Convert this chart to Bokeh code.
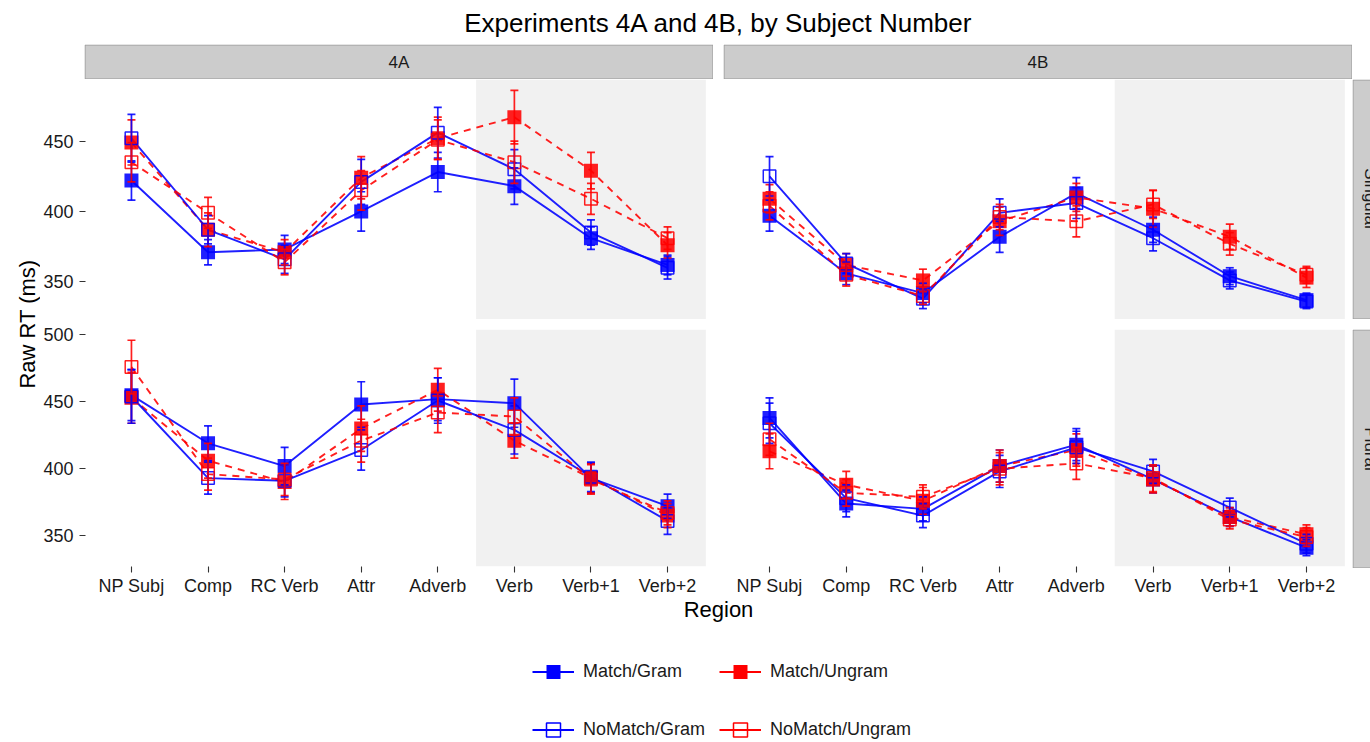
import math

from bokeh.embed import file_html
from bokeh.layouts import column, row
from bokeh.models import (ColumnDataSource, FactorRange, FixedTicker, Label,
                          Legend, LegendItem, Range1d, Spacer)
from bokeh.plotting import figure
from bokeh.resources import INLINE
from bokeh.transform import dodge

FONT = "Liberation Sans"

# ---------------------------------------------------------------- data
regions = ["NP Subj", "Comp", "RC Verb", "Attr", "Adverb", "Verb", "Verb+1", "Verb+2"]
conditions = ["Match/Gram", "Match/Ungram", "NoMatch/Gram", "NoMatch/Ungram"]
experiments = ["4A", "4B"]
numbers = ["Singular", "Plural"]
critical_first, critical_last = "Verb", "Verb+2"

# mean raw reading times (ms)
mean_4a_sg = {
    "Match/Gram":     [422, 371, 373, 400, 428, 418, 381, 362],
    "Match/Ungram":   [449, 387, 371, 424, 452, 467, 429, 376],
    "NoMatch/Gram":   [452, 387, 366, 421, 456, 430, 385, 360],
    "NoMatch/Ungram": [435, 399, 364, 415, 451, 435, 409, 381],
}
mean_4b_sg = {
    "Match/Gram":     [397, 356, 342, 382, 413, 387, 354, 337],
    "Match/Ungram":   [409, 362, 351, 393, 410, 402, 382, 353],
    "NoMatch/Gram":   [425, 363, 338, 399, 406, 381, 351, 336],
    "NoMatch/Ungram": [404, 355, 340, 396, 393, 405, 377, 355],
}
mean_4a_pl = {
    "Match/Gram":     [455, 419, 402, 448, 452, 449, 393, 372],
    "Match/Ungram":   [453, 406, 390, 430, 459, 421, 393, 365],
    "NoMatch/Gram":   [454, 393, 391, 414, 451, 429, 394, 361],
    "NoMatch/Ungram": [476, 396, 392, 421, 442, 439, 392, 367],
}
mean_4b_pl = {
    "Match/Gram":     [438, 374, 370, 402, 418, 392, 364, 341],
    "Match/Ungram":   [413, 388, 376, 402, 414, 392, 364, 351],
    "NoMatch/Gram":   [434, 378, 365, 398, 416, 398, 371, 344],
    "NoMatch/Ungram": [422, 382, 379, 400, 404, 393, 362, 349],
}

# standard errors (ms)
se_4a_sg = {
    "Match/Gram":     [14, 9, 10, 14, 14, 13, 8, 7],
    "Match/Ungram":   [16, 12, 9, 15, 15, 19, 13, 9],
    "NoMatch/Gram":   [17, 10, 10, 16, 18, 14, 9, 8],
    "NoMatch/Ungram": [14, 11, 9, 14, 14, 15, 11, 8],
}
se_4b_sg = {
    "Match/Gram":     [11, 8, 7, 11, 11, 9, 6, 5],
    "Match/Ungram":   [10, 8, 8, 10, 10, 13, 9, 7],
    "NoMatch/Gram":   [14, 7, 7, 10, 11, 9, 6, 5],
    "NoMatch/Ungram": [10, 8, 6, 9, 11, 10, 8, 6],
}
se_4a_pl = {
    "Match/Gram":     [19, 13, 14, 17, 16, 18, 11, 9],
    "Match/Ungram":   [19, 13, 13, 17, 16, 13, 11, 9],
    "NoMatch/Gram":   [20, 12, 12, 15, 17, 18, 11, 10],
    "NoMatch/Ungram": [20, 12, 12, 16, 15, 14, 11, 9],
}
se_4b_pl = {
    "Match/Gram":     [15, 10, 9, 12, 12, 10, 7, 6],
    "Match/Ungram":   [13, 10, 10, 12, 12, 10, 7, 7],
    "NoMatch/Gram":   [15, 10, 9, 12, 12, 9, 7, 7],
    "NoMatch/Ungram": [12, 10, 9, 12, 12, 10, 7, 7],
}

y_ticks = {"Singular": [350, 400, 450], "Plural": [350, 400, 450, 500]}

panel_means = {("4A", "Singular"): mean_4a_sg, ("4B", "Singular"): mean_4b_sg,
               ("4A", "Plural"): mean_4a_pl, ("4B", "Plural"): mean_4b_pl}
panel_ses = {("4A", "Singular"): se_4a_sg, ("4B", "Singular"): se_4b_sg,
             ("4A", "Plural"): se_4a_pl, ("4B", "Plural"): se_4b_pl}

BLUE, RED = "#0000FF", "#FF0000"
styles = {
    "Match/Gram":     dict(color=BLUE, dash="solid", filled=True),
    "Match/Ungram":   dict(color=RED, dash="7 6", filled=True),
    "NoMatch/Gram":   dict(color=BLUE, dash="solid", filled=False),
    "NoMatch/Ungram": dict(color=RED, dash="7 6", filled=False),
}
ALPHA = 0.88

# ---------------------------------------------------------------- sizes (px)
W = 1370
TITLE_H = 44
STRIP = 35
PANEL_W = 629
PANEL_GAP = 10
TOP_H = 240
BOT_H = 239
XAXIS_H = 30
YLAB_W = 40
YAXIS_W = 44
RIGHT_STRIP_W = W - YLAB_W - YAXIS_W - 2 * PANEL_W - PANEL_GAP
REGION_H = 30
LEGEND_H = 742 - TITLE_H - STRIP - TOP_H - PANEL_GAP - BOT_H - XAXIS_H - REGION_H


def blank(width, height):
    f = figure(width=width, height=height, x_range=Range1d(0, width),
               y_range=Range1d(0, height), title=None, toolbar_location=None,
               x_axis_location=None, y_axis_location=None, min_border=0,
               output_backend="svg")
    f.grid.visible = False
    f.outline_line_color = None
    return f


def row_limits(number):
    lows, highs = [], []
    for exp in experiments:
        for cond in conditions:
            m = panel_means[(exp, number)][cond]
            s = panel_ses[(exp, number)][cond]
            lows += [a - b for a, b in zip(m, s)]
            highs += [a + b for a, b in zip(m, s)]
    lo, hi = min(lows), max(highs)
    pad = 0.05 * (hi - lo)
    return lo - pad, hi + pad


def panel(exp, number, left_axis, bottom_axis):
    y0, y1 = row_limits(number)
    top_pad = PANEL_GAP if number == "Plural" else 0
    width = PANEL_W + (YAXIS_W if left_axis else 0)
    height = (TOP_H if number == "Singular" else BOT_H) + top_pad + (XAXIS_H if bottom_axis else 0)
    p = figure(width=width, height=height, title=None,
               x_range=FactorRange(factors=regions, range_padding=0.1,
                                   range_padding_units="absolute"),
               y_range=Range1d(y0, y1), toolbar_location=None,
               x_axis_location="below" if bottom_axis else None,
               y_axis_location="left" if left_axis else None,
               min_border_left=YAXIS_W if left_axis else 0, min_border_right=0,
               min_border_top=top_pad, min_border_bottom=XAXIS_H if bottom_axis else 0,
               output_backend="svg")
    p.grid.visible = False
    p.outline_line_color = None
    p.background_fill_color = "white"

    # shaded critical region
    shade = ColumnDataSource(dict(first=[critical_first], last=[critical_last],
                                  bottom=[y0], top=[y1]))
    p.quad(left=dodge("first", -0.5, range=p.x_range),
           right=dodge("last", 0.5, range=p.x_range),
           bottom="bottom", top="top", source=shade,
           fill_color="#F1F1F1", line_color=None)

    sources = {}
    for cond in conditions:
        m = panel_means[(exp, number)][cond]
        s = panel_ses[(exp, number)][cond]
        sources[cond] = ColumnDataSource(dict(
            region=regions, rt=m,
            lo=[a - b for a, b in zip(m, s)], hi=[a + b for a, b in zip(m, s)]))

    for cond in conditions:
        st = styles[cond]
        p.line(x="region", y="rt", source=sources[cond], line_color=st["color"],
               line_width=1.9, line_dash=st["dash"], line_alpha=ALPHA)
    for cond in conditions:
        st = styles[cond]
        if st["filled"]:
            p.scatter(x="region", y="rt", source=sources[cond], marker="square",
                      size=14, fill_color=st["color"], fill_alpha=ALPHA,
                      line_color=None)
        else:
            p.scatter(x="region", y="rt", source=sources[cond], marker="square",
                      size=12.5, fill_color=None, line_color=st["color"],
                      line_width=1.5, line_alpha=ALPHA)
    for cond in conditions:
        st = styles[cond]
        src = sources[cond]
        p.segment(x0="region", y0="lo", x1="region", y1="hi", source=src,
                  line_color=st["color"], line_width=1.7, line_alpha=ALPHA)
        for end in ("lo", "hi"):
            p.scatter(x="region", y=end, source=src, marker="dash", size=8,
                      line_color=st["color"], line_width=1.7, line_alpha=ALPHA)

    for ax in p.axis:
        ax.axis_line_color = None
        ax.major_tick_line_color = "#333333"
        ax.major_tick_line_width = 1.1
        ax.major_tick_in = 0
        ax.major_tick_out = 6
        ax.minor_tick_line_color = None
        ax.major_label_text_font = FONT
        ax.major_label_text_font_size = "18px"
        ax.major_label_text_color = "#1A1A1A"
    if left_axis:
        p.yaxis.ticker = FixedTicker(ticks=y_ticks[number])
        p.yaxis.major_label_standoff = 6
    if bottom_axis:
        p.xaxis.major_label_standoff = 3
    return p


def top_strip(text):
    s = blank(PANEL_W, STRIP)
    s.quad(left=0.5, right=PANEL_W - 0.5, bottom=0.5, top=STRIP - 0.5,
           fill_color="#CCCCCC", line_color="#999999", line_width=1)
    s.add_layout(Label(x=PANEL_W / 2, y=STRIP / 2, text=text, text_align="center",
                       text_baseline="middle", text_font=FONT,
                       text_font_size="17px", text_color="#1A1A1A"))
    return s


def side_strip(text, height):
    s = blank(RIGHT_STRIP_W, height)
    s.quad(left=0.5, right=STRIP + 5, bottom=0.5, top=height - 0.5,
           fill_color="#CCCCCC", line_color="#999999", line_width=1)
    s.add_layout(Label(x=STRIP / 2, y=height / 2, text=text, angle=-math.pi / 2,
                       text_align="center", text_baseline="middle",
                       text_font=FONT, text_font_size="17px",
                       text_color="#1A1A1A"))
    return s


# ---------------------------------------------------------------- panels
tl = panel("4A", "Singular", True, False)
tr = panel("4B", "Singular", False, False)
bl = panel("4A", "Plural", True, True)
br = panel("4B", "Plural", False, True)

strips = row(Spacer(width=YAXIS_W, height=STRIP), top_strip(experiments[0]),
             Spacer(width=PANEL_GAP, height=STRIP), top_strip(experiments[1]),
             Spacer(width=RIGHT_STRIP_W, height=STRIP))
top_row = row(tl, Spacer(width=PANEL_GAP, height=TOP_H), tr,
              side_strip(numbers[0], TOP_H))
bottom_row = row(bl, Spacer(width=PANEL_GAP, height=PANEL_GAP + BOT_H + XAXIS_H), br,
                 column(Spacer(width=RIGHT_STRIP_W, height=PANEL_GAP),
                        side_strip(numbers[1], BOT_H),
                        Spacer(width=RIGHT_STRIP_W, height=XAXIS_H)))
grid = column(strips, top_row, bottom_row)

grid_h = STRIP + TOP_H + PANEL_GAP + BOT_H + XAXIS_H
panels_cx = YLAB_W + YAXIS_W + PANEL_W + PANEL_GAP / 2

# ---------------------------------------------------------------- texts
title = blank(W, TITLE_H)
title.add_layout(Label(x=panels_cx, y=TITLE_H / 2, text="Experiments 4A and 4B, by Subject Number",
                       text_align="center", text_baseline="middle", text_font=FONT,
                       text_font_size="26px", text_color="black"))

ylab = blank(YLAB_W, grid_h)
ylab.add_layout(Label(x=27, y=XAXIS_H + (BOT_H + PANEL_GAP + TOP_H) / 2, text="Raw RT (ms)",
                      angle=math.pi / 2, text_align="center", text_baseline="middle",
                      text_font=FONT, text_font_size="22px", text_color="black"))

xlab = blank(W, REGION_H)
xlab.add_layout(Label(x=panels_cx, y=REGION_H - 11, text="Region", text_align="center",
                      text_baseline="middle", text_font=FONT, text_font_size="22px",
                      text_color="black"))

# ---------------------------------------------------------------- legend
# proxy renderers (a single NaN point each, so nothing shows in the frame)
leg = blank(W, LEGEND_H)
nan = float("nan")
items = {}
for cond in conditions:
    st = styles[cond]
    lr = leg.line(x=[nan, nan], y=[nan, nan], line_color=st["color"], line_width=1.9)
    if st["filled"]:
        sr = leg.scatter(x=[nan], y=[nan], marker="square", fill_color=st["color"],
                         line_color=None)
    else:
        sr = leg.scatter(x=[nan], y=[nan], marker="square", fill_color=None,
                         line_color=st["color"], line_width=1.5)
    items[cond] = LegendItem(label=cond, renderers=[lr, sr])

legend_style = dict(orientation="horizontal", glyph_width=42, glyph_height=35,
                    label_height=35, label_width=128, label_standoff=9, spacing=8,
                    padding=0, margin=0, border_line_color=None,
                    background_fill_alpha=0, label_text_font=FONT,
                    label_text_font_size="18px", label_text_color="#1A1A1A")
leg.add_layout(Legend(items=[items["Match/Gram"], items["Match/Ungram"]],
                      location=(532, LEGEND_H - 61), **legend_style))
leg.add_layout(Legend(items=[items["NoMatch/Gram"], items["NoMatch/Ungram"]],
                      location=(532, LEGEND_H - 119), **legend_style))

root = column(title, row(ylab, grid), xlab, leg)

with open("out.html", "w") as fh:
    fh.write(file_html(root, INLINE, title="Experiments 4A and 4B, by Subject Number"))
